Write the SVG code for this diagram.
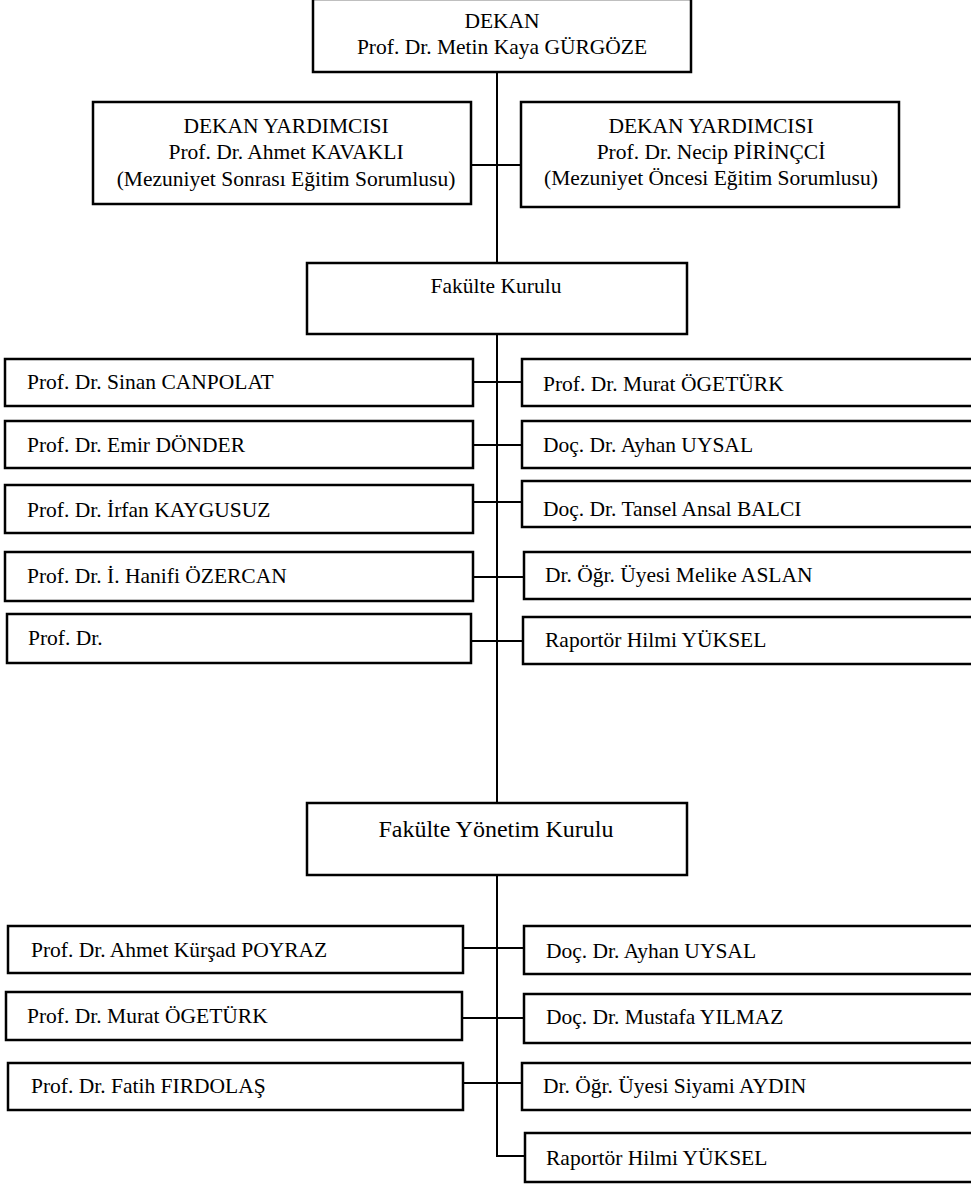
<svg xmlns="http://www.w3.org/2000/svg" width="971" height="1186" viewBox="0 0 971 1186">
<style>
.box{fill:#fff;stroke:#000;stroke-width:2.5}
.t{font-family:"Liberation Serif","Times New Roman",serif;font-size:21.5px;fill:#000}
.c{text-anchor:middle}
.conn line,.conn path{stroke:#000;stroke-width:2;fill:none}
</style>
<rect width="971" height="1186" fill="#fff"/>
<g class="conn" id="connectors">
<line x1="497" y1="72" x2="497" y2="263"/>
<line x1="471" y1="165" x2="521" y2="165"/>
<line x1="497" y1="334" x2="497" y2="803"/>
<line x1="473" y1="382" x2="522" y2="382"/>
<line x1="473" y1="445" x2="522" y2="445"/>
<line x1="473" y1="502" x2="522" y2="502"/>
<line x1="473" y1="577" x2="524" y2="577"/>
<line x1="471" y1="641" x2="523" y2="641"/>
<path d="M497 875 V1156 H525"/>
<line x1="463" y1="948" x2="524" y2="948"/>
<line x1="462" y1="1018" x2="524" y2="1018"/>
<line x1="463" y1="1083" x2="522" y2="1083"/>
</g>
<g id="dekan">
<rect class="box" x="313" y="-1" width="378" height="73"/>
<text class="t c" x="502" y="28">DEKAN</text>
<text class="t c" x="502" y="54">Prof. Dr. Metin Kaya GÜRGÖZE</text>
</g>
<g id="dy1">
<rect class="box" x="93" y="102" width="378" height="102"/>
<text class="t c" x="286" y="133">DEKAN YARDIMCISI</text>
<text class="t c" x="286" y="159">Prof. Dr. Ahmet KAVAKLI</text>
<text class="t c" x="286" y="186">(Mezuniyet Sonrası Eğitim Sorumlusu)</text>
</g>
<g id="dy2">
<rect class="box" x="521" y="102" width="378" height="105"/>
<text class="t c" x="711" y="133">DEKAN YARDIMCISI</text>
<text class="t c" x="711" y="159">Prof. Dr. Necip PİRİNÇCİ</text>
<text class="t c" x="711" y="185">(Mezuniyet Öncesi Eğitim Sorumlusu)</text>
</g>
<g id="fk">
<rect class="box" x="307" y="263" width="380" height="71"/>
<text class="t c" x="496" y="293">Fakülte Kurulu</text>
</g>
<g id="fk-l1"><rect class="box" x="5" y="359" width="468" height="47"/><text class="t" x="27" y="389">Prof. Dr. Sinan CANPOLAT</text></g>
<g id="fk-l2"><rect class="box" x="5" y="421" width="468" height="47"/><text class="t" x="27" y="452">Prof. Dr. Emir DÖNDER</text></g>
<g id="fk-l3"><rect class="box" x="5" y="485" width="468" height="48"/><text class="t" x="27" y="517">Prof. Dr. İrfan KAYGUSUZ</text></g>
<g id="fk-l4"><rect class="box" x="5" y="552" width="468" height="49"/><text class="t" x="27" y="583">Prof. Dr. İ. Hanifi ÖZERCAN</text></g>
<g id="fk-l5"><rect class="box" x="7" y="614" width="464" height="49"/><text class="t" x="28" y="645">Prof. Dr.</text></g>
<g id="fk-r1"><rect class="box" x="522" y="359" width="460" height="47"/><text class="t" x="543" y="391">Prof. Dr. Murat ÖGETÜRK</text></g>
<g id="fk-r2"><rect class="box" x="522" y="421" width="460" height="47"/><text class="t" x="543" y="452">Doç. Dr. Ayhan UYSAL</text></g>
<g id="fk-r3"><rect class="box" x="522" y="481" width="460" height="46"/><text class="t" x="543" y="516">Doç. Dr. Tansel Ansal BALCI</text></g>
<g id="fk-r4"><rect class="box" x="524" y="552" width="458" height="47"/><text class="t" x="545" y="582">Dr. Öğr. Üyesi Melike ASLAN</text></g>
<g id="fk-r5"><rect class="box" x="523" y="617" width="459" height="47"/><text class="t" x="545" y="647">Raportör Hilmi YÜKSEL</text></g>
<g id="fyk">
<rect class="box" x="307" y="803" width="380" height="72"/>
<text class="t c" x="496" y="837" style="font-size:24px">Fakülte Yönetim Kurulu</text>
</g>
<g id="fyk-l1"><rect class="box" x="8" y="926" width="455" height="47"/><text class="t" x="31" y="957">Prof. Dr. Ahmet Kürşad POYRAZ</text></g>
<g id="fyk-l2"><rect class="box" x="6" y="992" width="456" height="48"/><text class="t" x="27" y="1023">Prof. Dr. Murat ÖGETÜRK</text></g>
<g id="fyk-l3"><rect class="box" x="8" y="1063" width="455" height="47"/><text class="t" x="31" y="1093">Prof. Dr. Fatih FIRDOLAŞ</text></g>
<g id="fyk-r1"><rect class="box" x="524" y="926" width="458" height="48"/><text class="t" x="546" y="958">Doç. Dr. Ayhan UYSAL</text></g>
<g id="fyk-r2"><rect class="box" x="524" y="994" width="458" height="49"/><text class="t" x="546" y="1024">Doç. Dr. Mustafa YILMAZ</text></g>
<g id="fyk-r3"><rect class="box" x="522" y="1063" width="460" height="47"/><text class="t" x="543" y="1093">Dr. Öğr. Üyesi Siyami AYDIN</text></g>
<g id="fyk-r4"><rect class="box" x="525" y="1133" width="457" height="49"/><text class="t" x="546" y="1165">Raportör Hilmi YÜKSEL</text></g>
</svg>
